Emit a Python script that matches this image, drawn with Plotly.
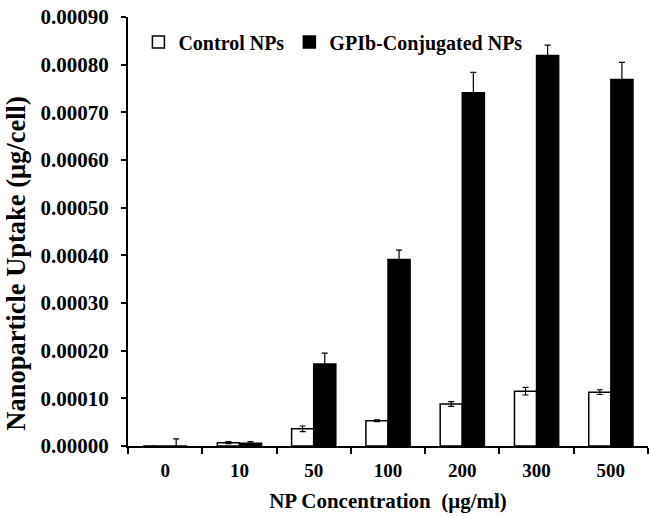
import plotly.graph_objects as go

categories = ["0", "10", "50", "100", "200", "300", "500"]
control_vals = [0.0, 0.000007, 0.000036, 0.000053, 0.000088, 0.000115, 0.000113]
control_err = [0.0, 0.000002, 0.000006, 0.000002, 0.000005, 0.000008, 0.000005]
gpib_vals = [0.0, 0.000006, 0.000172, 0.000391, 0.000741, 0.000819, 0.000769]
gpib_err = [0.000015, 0.000003, 0.000023, 0.00002, 0.000043, 0.000022, 0.000036]
y_ticks = [0.0, 0.0001, 0.0002, 0.0003, 0.0004, 0.0005, 0.0006, 0.0007, 0.0008, 0.0009]
y_labels = ["0.00000", "0.00010", "0.00020", "0.00030", "0.00040", "0.00050",
            "0.00060", "0.00070", "0.00080", "0.00090"]
y_title = "Nanoparticle Uptake (μg/cell)"
x_title = "NP Concentration\u00a0 (μg/ml)"

FONT = "Liberation Serif"

fig = go.Figure()
fig.add_trace(go.Bar(
    x=categories, y=control_vals, name="Control NPs",
    marker=dict(color="white", line=dict(color="black", width=1.5)),
    error_y=dict(type="data", array=control_err, visible=True, color="black", thickness=1.2, width=3),
))
fig.add_trace(go.Bar(
    x=categories, y=gpib_vals, name="GPIb-Conjugated NPs",
    marker=dict(color="black", line=dict(color="black", width=1.5)),
    error_y=dict(type="data", array=gpib_err, visible=True, color="black", thickness=1.2, width=3),
))

fig.update_layout(
    width=649, height=517,
    paper_bgcolor="white", plot_bgcolor="white",
    margin=dict(l=128, r=1, t=17, b=71),
    barmode="group", bargap=0.405, bargroupgap=0,
    font=dict(family=FONT, color="black", size=20, weight="bold"),
    legend=dict(orientation="h", x=0.02, y=0.942, xanchor="left", yanchor="middle",
                font=dict(family=FONT, size=20, weight="bold"),
                itemwidth=30, tracegroupgap=0, bgcolor="rgba(0,0,0,0)"),
    showlegend=True,
    annotations=[dict(
        text=y_title, textangle=-90, showarrow=False,
        xref="paper", yref="paper", x=0, y=0.425, xanchor="center", yanchor="middle",
        xshift=-112, font=dict(family=FONT, size=26.5, weight="bold", color="black"),
    )],
)
fig.update_xaxes(
    type="category", showline=True, linecolor="black", linewidth=2,
    ticks="outside", tickson="boundaries", ticklen=6, tickwidth=2, tickcolor="black",
    ticklabelstandoff=6,
    tickfont=dict(family=FONT, size=19, weight="bold"),
    title=dict(text=x_title, font=dict(family=FONT, size=21, weight="bold"), standoff=14),
    showgrid=False, automargin=False,
)
fig.update_yaxes(
    range=[0, 0.0009], tickvals=y_ticks, ticktext=y_labels,
    showline=True, linecolor="black", linewidth=2,
    ticks="outside", ticklen=5, tickwidth=2, tickcolor="black",
    ticklabelstandoff=8,
    tickfont=dict(family=FONT, size=21, weight="bold"),
    showgrid=False, zeroline=False, automargin=False,
)

fig.write_html("out.html", config={"displayModeBar": False},
               post_script="document.body.style.margin='0px';")
